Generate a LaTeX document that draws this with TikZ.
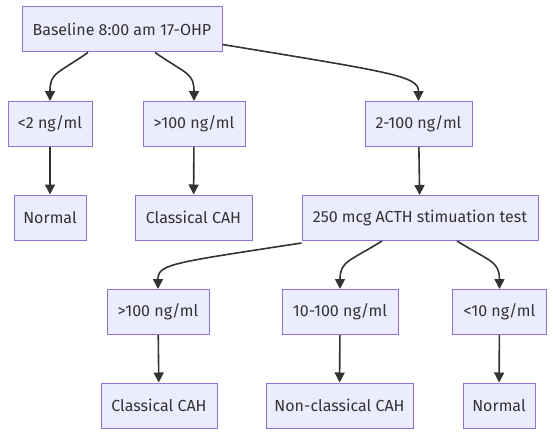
\documentclass[tikz,border=0pt]{standalone}
\usepackage{fontspec}
\setmainfont{Fira Sans}
\usetikzlibrary{arrows.meta}
\definecolor{boxfill}{HTML}{ECECFF}
\definecolor{boxline}{HTML}{9370DB}
\definecolor{edgecol}{HTML}{333333}
\begin{document}
\begin{tikzpicture}[x=1pt,y=-1pt,
  box/.style={draw=boxline,fill=boxfill,line width=1pt,minimum height=45pt,inner sep=0pt,
    font=\fontsize{16}{19}\selectfont,text=edgecol},
  edge/.style={draw=edgecol,line width=1.6pt,-{Triangle[length=10pt,width=10pt]}}]
\useasboundingbox (0,0) rectangle (554,436);
\node[box,minimum width=200pt] (base) at (122,29.5) {Baseline 8:00 am 17-OHP};
\node[box,minimum width=84pt] (lt2) at (50,124) {<2 ng/ml};
\node[box,minimum width=102pt] (gt100a) at (194,124) {>100 ng/ml};
\node[box,minimum width=107pt] (mid) at (418.5,124) {2-100 ng/ml};
\node[box,minimum width=72pt] (norma) at (50,217.5) {Normal};
\node[box,minimum width=117pt] (cla) at (193.5,217.5) {Classical CAH};
\node[box,minimum width=236pt] (acth) at (420,218) {250 mcg ACTH stimuation test};
\node[box,minimum width=102pt] (gt100b) at (158,312) {>100 ng/ml};
\node[box,minimum width=116pt] (mid2) at (340,312) {10-100 ng/ml};
\node[box,minimum width=94pt] (lt10) at (499.5,312) {<10 ng/ml};
\node[box,minimum width=116pt] (clb) at (159,405.5) {Classical CAH};
\node[box,minimum width=147pt] (ncl) at (339.5,405.5) {Non-classical CAH};
\node[box,minimum width=72pt] (normb) at (499,405.5) {Normal};
\path[edge] ([xshift=-34pt]base.south) .. controls +(-32,22) and +(0,-28) .. (lt2.north);
\path[edge] ([xshift=33pt]base.south) .. controls +(32,22) and +(0,-28) .. (gt100a.north);
\path[edge] ([yshift=-15pt]base.east) .. controls +(170,28) and +(0,-25) .. (mid.north);
\path[edge] (lt2) -- (norma);
\path[edge] (gt100a) -- (cla);
\path[edge] (mid) -- (acth);
\path[edge] ([yshift=-2pt]acth.south west) .. controls +(-130,20) and +(0,-25) .. (gt100b.north);
\path[edge] ([xshift=-38pt]acth.south) .. controls +(-32,20) and +(0,-28) .. (mid2.north);
\path[edge] ([xshift=37pt]acth.south) .. controls +(32,20) and +(0,-28) .. (lt10.north);
\path[edge] (gt100b) -- (clb);
\path[edge] (mid2) -- (ncl);
\path[edge] (lt10) -- (normb);
\end{tikzpicture}
\end{document}
